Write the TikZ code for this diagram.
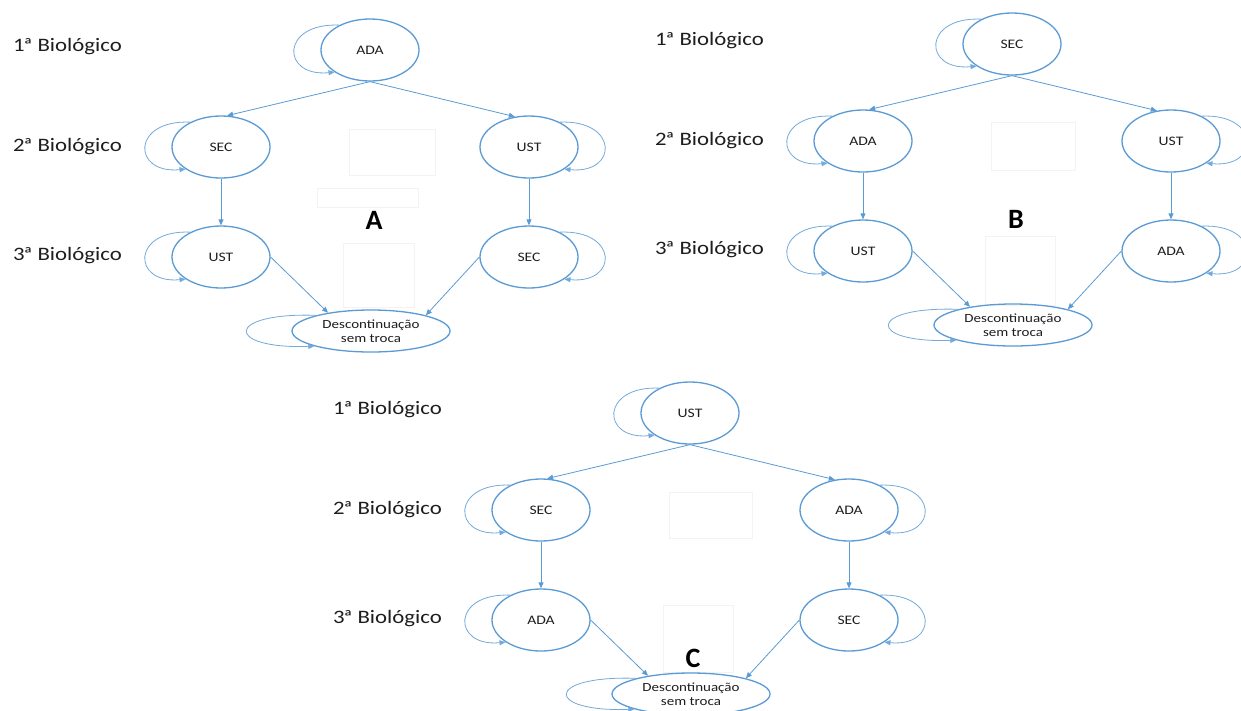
\documentclass[tikz,border=0pt]{standalone}
\usepackage{fontspec}
\usetikzlibrary{shapes.geometric,arrows.meta}

\newfontfamily\diagfont{Carlito}[FakeStretch=1.2]
\newfontfamily\tagfont{Carlito}
\definecolor{flowblue}{RGB}{91,155,213}
\definecolor{inktext}{RGB}{30,30,30}
\definecolor{ghostline}{RGB}{243,243,243}

\tikzset{
  stagenode/.style={ellipse, draw=flowblue, line width=1.3pt,
    minimum width=98pt, minimum height=62pt, inner sep=0pt,
    text=inktext, font=\diagfont\fontsize{13}{14}\selectfont},
  stopnode/.style={stagenode, minimum width=158pt, minimum height=42pt,
    align=center, font=\diagfont\fontsize{12.5}{13.5}\selectfont},
  rowlabel/.style={anchor=west, inner sep=0pt, text=inktext,
    font=\diagfont\fontsize{19}{22}\selectfont},
  panelletter/.style={inner sep=0pt, text=black,
    font=\tagfont\bfseries\fontsize{28}{30}\selectfont},
  link/.style={draw=flowblue, line width=0.8pt,
    -{Triangle[length=6pt,width=5pt]}},
  selfloop/.style={link, draw=flowblue!85},
  ghostbox/.style={draw=ghostline, line width=0.6pt},
}

% ordinal row heading
\newcommand\ordlabel[1]{#1\kern-1.5pt ª Biológico}

% self transitions on the left, on the right and for the final state
\newcommand\loopwest[1]{%
  \draw[selfloop] (#1.141) .. controls +(-59,-2.6) and +(-54,5) .. (#1.212);}
\newcommand\loopeast[1]{%
  \draw[selfloop] (#1.39) .. controls +(59,-2.6) and +(54,5) .. (#1.-32);}
\newcommand\loopstop[1]{%
  \draw[selfloop] (#1.164) .. controls +(-92,-3) and +(-90,3) .. (#1.195);}

% one treatment sequence: prefix, position of the first state, five drug names
\newcommand\drawpanel[8]{%
  \begin{scope}[shift={(#2,#3)}]
    \node[rowlabel] (#1n1) at (-357,-3) {\ordlabel{1}};
    \node[rowlabel] (#1n2) at (-357,97) {\ordlabel{2}};
    \node[rowlabel] (#1n3) at (-357,206) {\ordlabel{3}};
    \node[stagenode] (#1top) at (0,0) {#4};
    \node[stagenode] (#1l2) at (-149,97) {#5};
    \node[stagenode] (#1l3) at (-149,207) {#6};
    \node[stagenode] (#1r2) at (159,97) {#7};
    \node[stagenode] (#1r3) at (159,207) {#8};
    \node[stopnode] (#1d) at (1,281) {Descontinuação\\sem troca};
    \draw[link] (#1top.south) -- (#1l2.79);
    \draw[link] (#1top.south) -- (#1r2.115);
    \draw[link] (#1l2.south) -- (#1l3.north);
    \draw[link] (#1r2.south) -- (#1r3.north);
    \draw[link] (#1l3.east) -- (#1d.157);
    \draw[link] (#1r3.west) -- (#1d.16);
    \loopwest{#1top}
    \loopwest{#1l2}
    \loopwest{#1l3}
    \loopeast{#1r2}
    \loopeast{#1r3}
    \loopstop{#1d}
  \end{scope}}

\begin{document}
\begin{tikzpicture}[x=1pt, y=-1pt]
  \useasboundingbox (0,0) rectangle (1241,710);
  \fill[white] (0,0) rectangle (1241,710);

  % empty text frames left in the layout
  \draw[ghostbox] (349,129) rectangle (435,175);
  \draw[ghostbox] (317,188) rectangle (418,207);
  \draw[ghostbox] (343,243) rectangle (414,307);
  \draw[ghostbox] (991,122) rectangle (1075,170);
  \draw[ghostbox] (985,236) rectangle (1055,305);
  \draw[ghostbox] (669,492) rectangle (752,538);
  \draw[ghostbox] (663,605) rectangle (733,672);

  \drawpanel{a}{370}{50}{ADA}{SEC}{UST}{UST}{SEC}
  \drawpanel{b}{1012}{44}{SEC}{ADA}{UST}{UST}{ADA}
  \drawpanel{c}{690}{413}{UST}{SEC}{ADA}{ADA}{SEC}

  \node[panelletter] (tagA) at (374,220) {A};
  \node[panelletter] (tagB) at (1016,219) {B};
  \node[panelletter] (tagC) at (693,658) {C};
\end{tikzpicture}
\end{document}
